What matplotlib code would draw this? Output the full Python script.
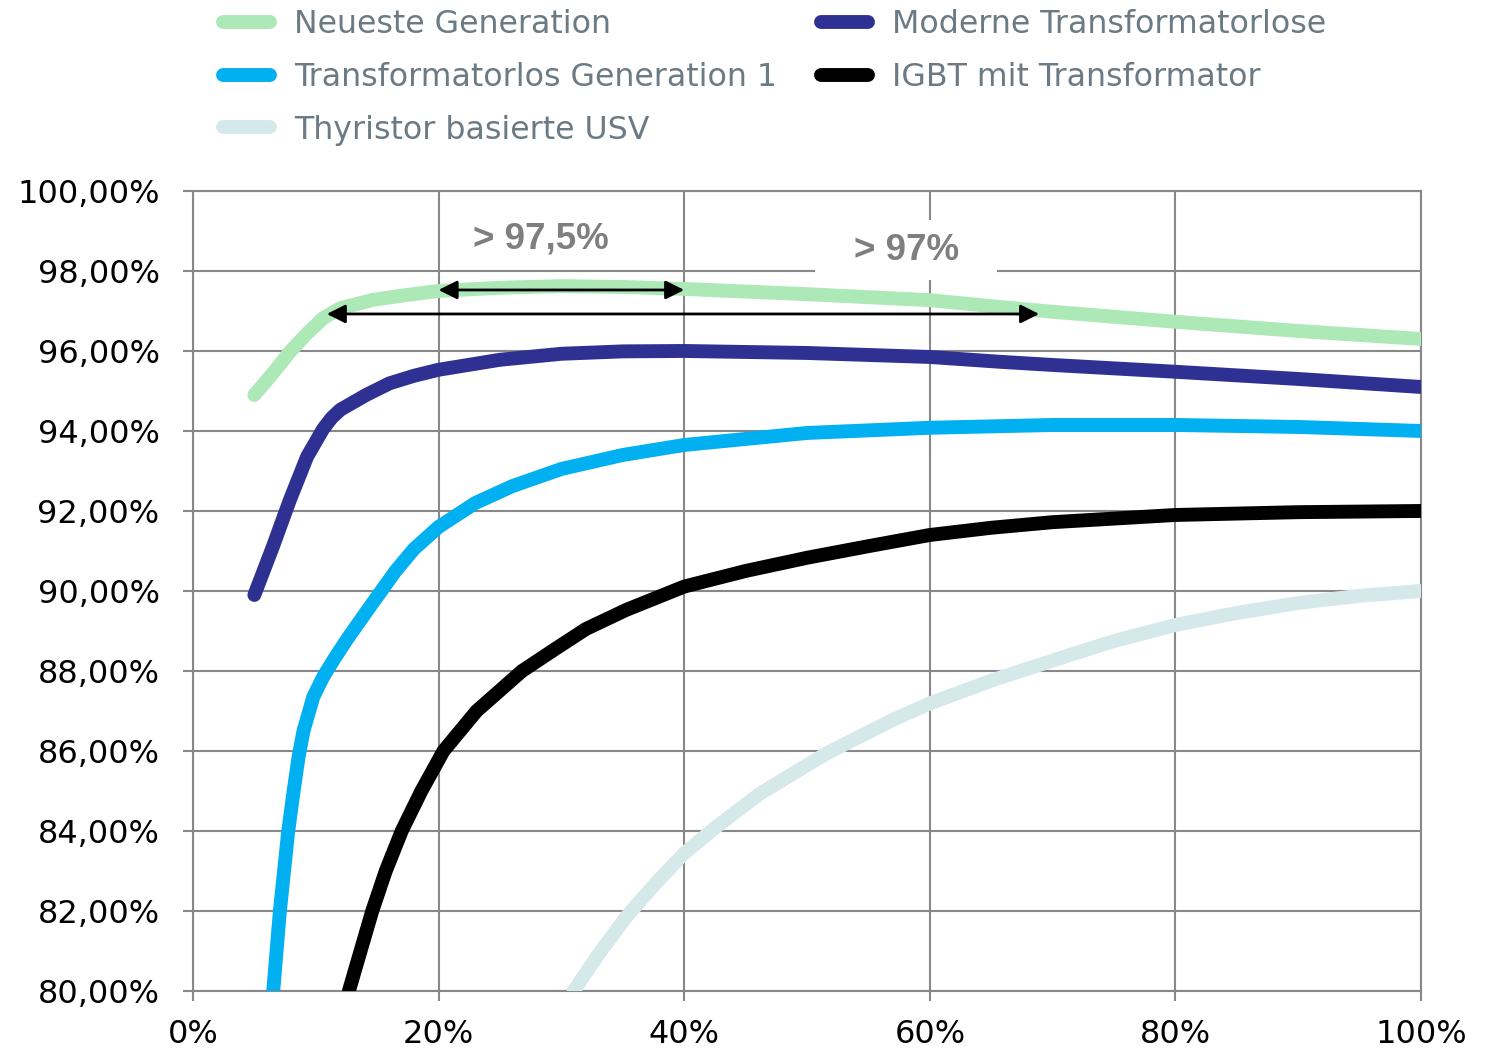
import matplotlib.pyplot as plt
from matplotlib.patches import Rectangle

# load in % of nominal power, efficiency in %
neu_x = [5, 6.5, 7.9, 9.3, 10.6, 12, 14.7, 17.4, 20, 25, 30, 35, 40, 50, 60, 65.7, 70, 80, 90, 100]
neu_y = [94.9, 95.44, 95.98, 96.44, 96.82, 97.07, 97.28, 97.4, 97.5, 97.58, 97.62, 97.6, 97.55,
         97.42, 97.27, 97.1, 96.98, 96.73, 96.5, 96.3]

mod_x = [5, 6.5, 7.9, 9.3, 10.6, 11.3, 12, 14.1, 16, 18, 20, 25, 30, 35, 40, 50, 60, 65.7, 70, 80,
         90, 100]
mod_y = [89.9, 91.1, 92.28, 93.36, 94.05, 94.33, 94.53, 94.9, 95.19, 95.38, 95.53, 95.78, 95.93,
         95.99, 96.0, 95.95, 95.85, 95.73, 95.65, 95.48, 95.3, 95.1]

tl1_x = [6.54, 7.08, 7.76, 8.2, 8.6, 9.0, 9.8, 10.6, 11.5, 12.52, 14.4, 16.5, 18, 20, 23, 26, 30,
         35, 40, 50, 60, 70, 80, 90, 100]
tl1_y = [80, 82, 84, 85.0, 85.85, 86.5, 87.35, 87.85, 88.3, 88.78, 89.6, 90.5, 91.05, 91.6, 92.2,
         92.62, 93.05, 93.4, 93.65, 93.95, 94.08, 94.15, 94.15, 94.1, 94.0]

igbt_x = [12.7, 13.6, 14.6, 15.7, 17.0, 18.6, 20.4, 23.1, 26.8, 29.5, 32, 35.3, 40, 45, 50, 55,
          60, 65, 70, 80, 90, 100]
igbt_y = [80, 80.95, 82.0, 83.0, 84.0, 85.0, 86.0, 87.0, 88.0, 88.55, 89.05, 89.53, 90.11, 90.5,
          90.83, 91.12, 91.4, 91.58, 91.72, 91.9, 91.97, 92.0]

thy_x = [31, 33.1, 35.3, 37.7, 40, 42.6, 46.2, 51.6, 57, 60, 65.2, 70.6, 75, 80, 85, 90, 95, 100]
thy_y = [80, 80.95, 81.86, 82.7, 83.44, 84.1, 84.94, 85.94, 86.78, 87.19, 87.78, 88.32, 88.75,
         89.15, 89.45, 89.7, 89.88, 90.0]

labels = ['Neueste Generation', 'Moderne Transformatorlose', 'Transformatorlos Generation 1',
          'IGBT mit Transformator', 'Thyristor basierte USV']
colors = ['#ADE8B7', '#2E3192', '#00B0F0', '#000000', '#D5E8EA']

x_ticks = [0, 20, 40, 60, 80, 100]
x_ticklabels = ['0%', '20%', '40%', '60%', '80%', '100%']
y_ticks = [80, 82, 84, 86, 88, 90, 92, 94, 96, 98, 100]
y_ticklabels = ['80,00%', '82,00%', '84,00%', '86,00%', '88,00%', '90,00%', '92,00%',
                '94,00%', '96,00%', '98,00%', '100,00%']

# annotation ranges
band1 = (20, 40, 97.525)
band2 = (10.9, 68.9, 96.925)

grid_c = '#888888'

fig = plt.figure(figsize=(14.91, 10.51), dpi=100)
ax = fig.add_axes([0.1294, 0.0571, 0.8237, 0.7612])

series = [(neu_x, neu_y), (mod_x, mod_y), (tl1_x, tl1_y), (igbt_x, igbt_y), (thy_x, thy_y)]
handles = []
for (xs, ys), lab, c in zip(series, labels, colors):
    h, = ax.plot(xs, ys, color=c, lw=10, solid_capstyle='round', solid_joinstyle='round',
                 label=lab, zorder=3)
    handles.append(h)

ax.set_xlim(0, 100)
ax.set_ylim(80, 100)
ax.set_xticks(x_ticks)
ax.set_xticklabels(x_ticklabels)
ax.set_yticks(y_ticks)
ax.set_yticklabels(y_ticklabels)
ax.grid(True, color=grid_c, lw=1.5)
ax.set_axisbelow(True)
for s in ax.spines.values():
    s.set_color(grid_c)
    s.set_linewidth(1.5)
ax.tick_params(axis='both', direction='out', length=7, width=1.5, color=grid_c,
               labelsize=23, labelcolor='black')
ax.tick_params(axis='y', pad=17)
ax.tick_params(axis='x', pad=13)

# white box behind the "> 97%" label
ax.add_patch(Rectangle((50.65, 97.78), 14.85, 1.5, facecolor='white', edgecolor='none', zorder=1))

arrow = dict(arrowstyle='<|-|>', color='black', lw=2, mutation_scale=28, shrinkA=0, shrinkB=0)
ax.annotate('', xy=(band1[1], band1[2]), xytext=(band1[0], band1[2]), arrowprops=arrow, zorder=5)
ax.annotate('', xy=(band2[1], band2[2]), xytext=(band2[0], band2[2]), arrowprops=arrow, zorder=5)
ax.text(28.3, 98.8, '> 97,5%', ha='center', va='center', fontsize=26.5, fontweight='bold',
        family='Liberation Sans', color='#7F7F7F', zorder=6)
ax.text(58.1, 98.5, '> 97%', ha='center', va='center', fontsize=26.5, fontweight='bold',
        family='Liberation Sans', color='#7F7F7F', zorder=6)

order = [0, 2, 4, 1, 3]
leg = fig.legend([handles[i] for i in order], [labels[i] for i in order], loc='upper left',
                 bbox_to_anchor=(0.1495, 0.991), ncol=2, frameon=False, fontsize=22.8,
                 handlelength=1.5, handletextpad=0.75, columnspacing=1.38, labelspacing=0.68,
                 borderpad=0, borderaxespad=0)
for t in leg.get_texts():
    t.set_color('#6C7A84')

plt.savefig('out.png', dpi=100)
